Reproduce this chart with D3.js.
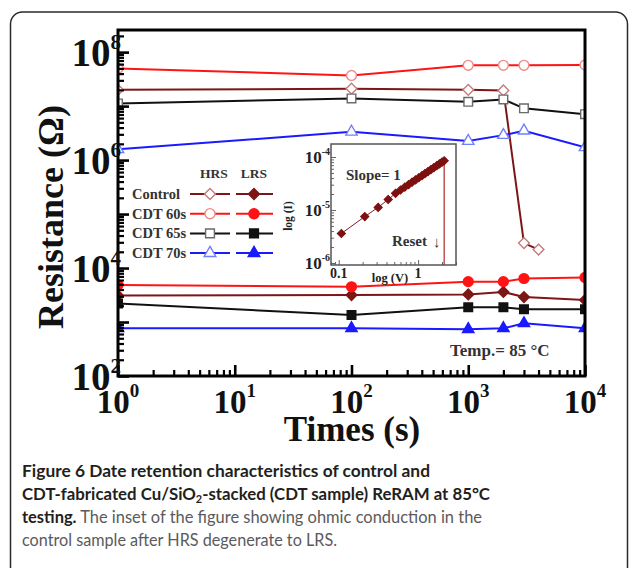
<!DOCTYPE html>
<meta charset="utf-8">
<style>
body { margin: 0; background: #fff; }
svg { display: block; }
.serif { font-family: "Liberation Serif", "Times New Roman", serif; font-weight: bold; }
.cap { font-family: Lato, "Open Sans", sans-serif; }
</style>
<body>
<script src="https://d3js.org/d3.v7.min.js"></script>
<script>
// retention time (s)
var times = [1, 100, 1000, 2000, 3000, 10000];
var timesControlHRS = [1, 100, 1000, 2000, 3000, 4000];

// resistance (ohm), HRS
var controlHRS = [2.0e7, 2.1e7, 2.0e7, 1.95e7, 2.9e4, 2.2e4];
var cdt60HRS = [5.0e7, 3.7e7, 5.7e7, 5.7e7, 5.7e7, 5.8e7];
var cdt65HRS = [1.12e7, 1.39e7, 1.2e7, 1.33e7, 9.1e6, 7.1e6];
var cdt70HRS = [1.58e6, 3.34e6, 2.25e6, 2.9e6, 3.49e6, 1.72e6];

// resistance (ohm), LRS
var controlLRS = [3.1e3, 3.15e3, 3.25e3, 3.6e3, 2.9e3, 2.55e3];
var cdt60LRS = [4.85e3, 4.5e3, 5.6e3, 5.6e3, 6.4e3, 6.7e3];
var cdt65LRS = [2.2e3, 1.35e3, 1.87e3, 1.87e3, 1.72e3, 1.72e3];
var cdt70LRS = [765, 765, 735, 765, 945, 765];

var sampleNames = ["Control", "CDT 60s", "CDT 65s", "CDT 70s"];

// inset: I-V of control sample after HRS fails
var insetV = [0.108, 0.213, 0.314, 0.42, 0.52, 0.6, 0.68, 0.76, 0.84, 0.93, 1.02, 1.12, 1.22, 1.33, 1.45, 1.58, 1.72, 1.86, 2.0, 2.13];
var insetI = [3.6e-6, 7.5e-6, 1.12e-5, 1.58e-5, 2.06e-5, 2.38e-5, 2.7e-5, 3.02e-5, 3.35e-5, 3.7e-5, 4.06e-5, 4.46e-5, 4.86e-5, 5.3e-5, 5.78e-5, 6.3e-5, 6.86e-5, 7.42e-5, 7.98e-5, 8.5e-5];

var series = [
  {name: sampleNames[0], color: "#7d1616", light: "#c47c7c", shape: "diamond", hrsX: timesControlHRS, hrs: controlHRS, lrs: controlLRS},
  {name: sampleNames[1], color: "#ff1414", light: "#f28888", shape: "circle", hrsX: times, hrs: cdt60HRS, lrs: cdt60LRS},
  {name: sampleNames[2], color: "#111111", light: "#6a6a6a", shape: "square", hrsX: times, hrs: cdt65HRS, lrs: cdt65LRS},
  {name: sampleNames[3], color: "#1a1aff", light: "#7080ff", shape: "triangle", hrsX: times, hrs: cdt70HRS, lrs: cdt70LRS}
];

var W = 629, H = 568;
var svg = d3.select("body").append("svg")
    .attr("width", W)
    .attr("height", H);

// outer rounded frame
svg.append("rect")
    .attr("x", 10.5).attr("y", 12)
    .attr("width", 617).attr("height", 620)
    .attr("rx", 12)
    .attr("fill", "none")
    .attr("stroke", "#2a2a2a")
    .attr("stroke-width", 1.5);

var x = d3.scaleLog().domain([1, 1e4]).range([118, 585]);
var y = d3.scaleLog().domain([1e2, Math.pow(10, 8.41)]).range([376, 30]);

function symbolPath(shape, size) {
  var t = {circle: d3.symbolCircle, square: d3.symbolSquare, triangle: d3.symbolTriangle, diamond: d3.symbolSquare}[shape];
  return d3.symbol().type(t).size(size)();
}
var sizes = {circle: 76, square: 74, triangle: 56, diamond: 58};
function drawMarker(g, shape, cx, cy, fill, stroke, scale) {
  var s = sizes[shape] * (scale || 1);
  g.append("path")
    .attr("d", symbolPath(shape, s))
    .attr("transform", "translate(" + cx + "," + cy + ")" + (shape === "diamond" ? " rotate(45)" : ""))
    .attr("fill", fill)
    .attr("stroke", stroke)
    .attr("stroke-width", 1.4);
}

svg.append("clipPath").attr("id", "plotclip")
  .append("rect")
    .attr("x", x.range()[0]).attr("y", y.range()[1])
    .attr("width", x.range()[1] - x.range()[0])
    .attr("height", y.range()[0] - y.range()[1]);

var plot = svg.append("g").attr("clip-path", "url(#plotclip)");

var line = d3.line()
    .x(function(d) { return x(d[0]); })
    .y(function(d) { return y(d[1]); });

series.forEach(function(s) {
  var hrsPts = d3.zip(s.hrsX, s.hrs);
  var lrsPts = d3.zip(times, s.lrs);
  plot.append("path").attr("d", line(hrsPts))
      .attr("fill", "none").attr("stroke", s.color).attr("stroke-width", 2);
  plot.append("path").attr("d", line(lrsPts))
      .attr("fill", "none").attr("stroke", s.color).attr("stroke-width", 2);
  s.hrsPts = hrsPts; s.lrsPts = lrsPts;
});
series.forEach(function(s) {
  s.hrsPts.forEach(function(d) { drawMarker(plot, s.shape, x(d[0]), y(d[1]), "#fff", s.light); });
  s.lrsPts.forEach(function(d) { drawMarker(plot, s.shape, x(d[0]), y(d[1]), s.color, s.color); });
});

// axes ticks (inward)
var yMajor = y.ticks().filter(function(v) { return Math.abs(Math.log10(v) - Math.round(Math.log10(v))) < 1e-9; });
var yMinor = y.ticks().filter(function(v) { return yMajor.indexOf(v) < 0; });
var xMajor = x.ticks().filter(function(v) { return Math.abs(Math.log10(v) - Math.round(Math.log10(v))) < 1e-9; });
var xMinor = x.ticks().filter(function(v) { return xMajor.indexOf(v) < 0; });

function tickAxis(axis, vals, len, width, transform) {
  var g = svg.append("g")
      .attr("transform", transform)
      .call(axis.tickValues(vals).tickSizeInner(-len).tickSizeOuter(0).tickFormat(""));
  g.select(".domain").remove();
  g.selectAll("line").attr("stroke", "#000").attr("stroke-width", width);
}
tickAxis(d3.axisLeft(y), yMajor, 11, 2.6, "translate(" + x.range()[0] + ",0)");
tickAxis(d3.axisLeft(y), yMinor, 6, 2.2, "translate(" + x.range()[0] + ",0)");
tickAxis(d3.axisBottom(x), xMajor, 11, 2.6, "translate(0," + y.range()[0] + ")");
tickAxis(d3.axisBottom(x), xMinor, 6, 2.2, "translate(0," + y.range()[0] + ")");

// frame
svg.append("rect")
    .attr("x", x.range()[0]).attr("y", y.range()[1])
    .attr("width", x.range()[1] - x.range()[0])
    .attr("height", y.range()[0] - y.range()[1])
    .attr("fill", "none").attr("stroke", "#000").attr("stroke-width", 3);

// tick labels
yMajor.filter(function(v) { return Math.round(Math.log10(v)) % 2 === 0; }).forEach(function(v) {
  var t = svg.append("text").attr("class", "serif")
      .attr("x", 121).attr("y", y(v) + 14)
      .attr("text-anchor", "end").attr("font-size", 39).attr("fill", "#111");
  t.append("tspan").text("10");
  t.append("tspan").attr("dy", -17).attr("font-size", 21).text(Math.round(Math.log10(v)));
});
xMajor.forEach(function(v) {
  var t = svg.append("text").attr("class", "serif")
      .attr("x", x(v)).attr("y", 413)
      .attr("text-anchor", "middle").attr("font-size", 33).attr("fill", "#111");
  t.append("tspan").text("10");
  t.append("tspan").attr("dy", -16).attr("font-size", 19).text(Math.round(Math.log10(v)));
});

// axis titles
svg.append("text").attr("class", "serif")
    .attr("transform", "translate(63,217) rotate(-90)")
    .attr("text-anchor", "middle").attr("font-size", 36).attr("fill", "#111")
    .text("Resistance (\u03A9)");
svg.append("text").attr("class", "serif")
    .attr("x", 352).attr("y", 441)
    .attr("text-anchor", "middle").attr("font-size", 35).attr("fill", "#111")
    .text("Times (s)");

svg.append("text").attr("class", "serif")
    .attr("x", 450).attr("y", 356)
    .attr("font-size", 17).attr("fill", "#333")
    .text("Temp.= 85 \u00B0C");

// legend
var lg = svg.append("g");
lg.append("text").attr("class", "serif").attr("x", 214).attr("y", 178)
    .attr("text-anchor", "middle").attr("font-size", 13.5).attr("fill", "#333").text("HRS");
lg.append("text").attr("class", "serif").attr("x", 254).attr("y", 178)
    .attr("text-anchor", "middle").attr("font-size", 13.5).attr("fill", "#333").text("LRS");
series.forEach(function(s, i) {
  var cy = 194 + i * 19.7;
  lg.append("text").attr("class", "serif").attr("x", 132).attr("y", cy + 5)
      .attr("font-size", 14.5).attr("fill", "#333").text(s.name);
  lg.append("line").attr("x1", 190).attr("x2", 230).attr("y1", cy).attr("y2", cy)
      .attr("stroke", s.color).attr("stroke-width", 2);
  lg.append("line").attr("x1", 236).attr("x2", 273).attr("y1", cy).attr("y2", cy)
      .attr("stroke", s.color).attr("stroke-width", 2);
  drawMarker(lg, s.shape, 210, cy, "#fff", s.light, 1.05);
  drawMarker(lg, s.shape, 254, cy, s.color, s.color, 1.05);
});

// inset
var ix = d3.scaleLog().domain([0.08, 3]).range([331, 456]);
var iy = d3.scaleLog().domain([Math.pow(10, -6.038), Math.pow(10, -3.755)]).range([265, 144]);
var inset = svg.append("g");
inset.append("rect")
    .attr("x", 331).attr("y", 144).attr("width", 125).attr("height", 121)
    .attr("fill", "#fff");

function insetTicks(axis, vals, len, transform) {
  var g = inset.append("g").attr("transform", transform)
      .call(axis.tickValues(vals).tickSizeInner(-len).tickSizeOuter(0).tickFormat(""));
  g.select(".domain").remove();
  g.selectAll("line").attr("stroke", "#666").attr("stroke-width", 1);
}
var iyMajor = [1e-6, 1e-5, 1e-4];
var iyMinor = iy.ticks().filter(function(v) { return iyMajor.every(function(m) { return Math.abs(m - v) / m > 1e-6; }); });
var ixMajor = [0.1, 1];
var ixMinor = ix.ticks().filter(function(v) { return ixMajor.every(function(m) { return Math.abs(m - v) / m > 1e-6; }); });
insetTicks(d3.axisLeft(iy), iyMajor, 5, "translate(331,0)");
insetTicks(d3.axisLeft(iy), iyMinor, 3, "translate(331,0)");
insetTicks(d3.axisBottom(ix), ixMajor, 5, "translate(0,265)");
insetTicks(d3.axisBottom(ix), ixMinor, 3, "translate(0,265)");

var ipts = d3.zip(insetV, insetI);
var iline = d3.line().x(function(d) { return ix(d[0]); }).y(function(d) { return iy(d[1]); });
inset.append("path").attr("d", iline(ipts))
    .attr("fill", "none").attr("stroke", "#8b1c1c").attr("stroke-width", 1);
var last = ipts[ipts.length - 1];
inset.append("line")
    .attr("x1", ix(last[0])).attr("x2", ix(last[0]))
    .attr("y1", iy(last[1])).attr("y2", iy.range()[0])
    .attr("stroke", "#b03a3a").attr("stroke-width", 1.3);
ipts.forEach(function(d) {
  inset.append("path")
      .attr("d", d3.symbol().type(d3.symbolSquare).size(34)())
      .attr("transform", "translate(" + ix(d[0]) + "," + iy(d[1]) + ") rotate(45)")
      .attr("fill", "#7d1010").attr("stroke", "#7d1010").attr("stroke-width", 1);
});
inset.append("rect")
    .attr("x", 331).attr("y", 144).attr("width", 125).attr("height", 121)
    .attr("fill", "none").attr("stroke", "#555").attr("stroke-width", 1.5);

iyMajor.forEach(function(v) {
  var t = inset.append("text").attr("class", "serif")
      .attr("x", 330).attr("y", iy(v) + 6)
      .attr("text-anchor", "end").attr("font-size", 17).attr("fill", "#222");
  t.append("tspan").text("10");
  t.append("tspan").attr("dy", -8).attr("font-size", 10).text(Math.round(Math.log10(v)));
});
inset.append("text").attr("class", "serif").attr("x", ix(0.1)).attr("y", 278)
    .attr("text-anchor", "middle").attr("font-size", 14).attr("fill", "#222").text("0.1");
inset.append("text").attr("class", "serif").attr("x", ix(1)).attr("y", 278)
    .attr("text-anchor", "middle").attr("font-size", 14).attr("fill", "#222").text("1");
inset.append("text").attr("class", "serif").attr("x", 390).attr("y", 282)
    .attr("text-anchor", "middle").attr("font-size", 12.5).attr("fill", "#222").text("log (V)");
inset.append("text").attr("class", "serif")
    .attr("transform", "translate(292,216) rotate(-90)")
    .attr("text-anchor", "middle").attr("font-size", 11.5).attr("fill", "#222").text("log (I)");
inset.append("text").attr("class", "serif").attr("x", 346).attr("y", 180)
    .attr("font-size", 15).attr("fill", "#333").text("Slope= 1");
inset.append("text").attr("class", "serif").attr("x", 392).attr("y", 246)
    .attr("font-size", 15).attr("fill", "#333").text("Reset");
inset.append("text").attr("class", "serif").attr("x", 433).attr("y", 247)
    .attr("font-size", 15).attr("fill", "#333").text("\u2193");

// caption
var cap = svg.append("g").attr("class", "cap").attr("font-size", 17);
var c1 = cap.append("text").attr("x", 22).attr("y", 477)
    .attr("textLength", 408).attr("lengthAdjust", "spacingAndGlyphs");
c1.append("tspan").attr("font-weight", "bold").attr("fill", "#231f20")
    .text("Figure 6 Date retention characteristics of control and");
var c2 = cap.append("text").attr("x", 22).attr("y", 500)
    .attr("textLength", 468).attr("lengthAdjust", "spacingAndGlyphs")
    .attr("font-weight", "bold").attr("fill", "#231f20");
c2.append("tspan").text("CDT-fabricated Cu/SiO");
c2.append("tspan").attr("dy", 3).attr("font-size", 11).text("2");
c2.append("tspan").attr("dy", -3).text("-stacked (CDT sample) ReRAM at 85\u00B0C");
var c3 = cap.append("text").attr("x", 22).attr("y", 523)
    .attr("textLength", 460).attr("lengthAdjust", "spacingAndGlyphs");
c3.append("tspan").attr("font-weight", "bold").attr("fill", "#231f20").text("testing.");
c3.append("tspan").attr("fill", "#5a5a5c").text(" The inset of the figure showing ohmic conduction in the");
var c4 = cap.append("text").attr("x", 22).attr("y", 546)
    .attr("textLength", 315).attr("lengthAdjust", "spacingAndGlyphs")
    .attr("fill", "#5a5a5c");
c4.append("tspan").text("control sample after HRS degenerate to LRS.");
</script>
</body>
